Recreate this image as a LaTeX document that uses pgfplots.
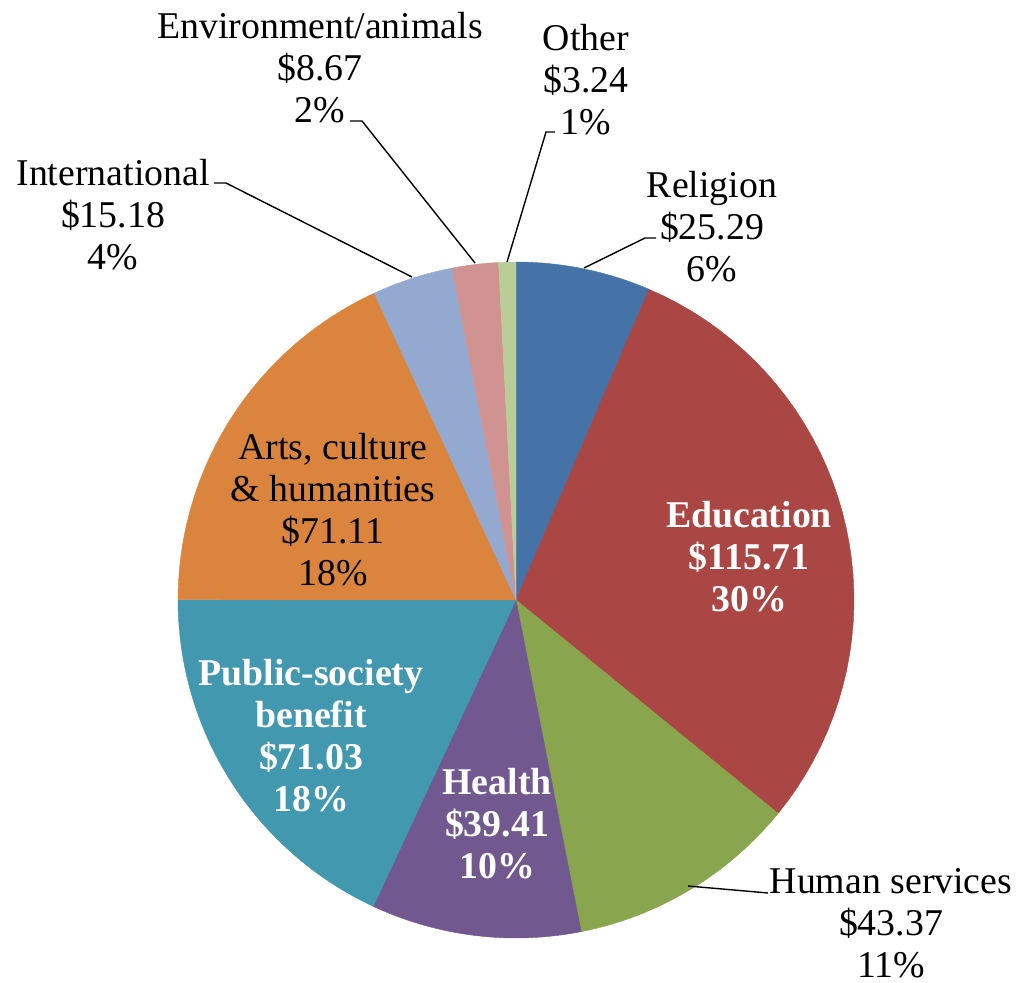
\documentclass[border=0pt]{standalone}
\usepackage{pgfplots}
\pgfplotsset{compat=1.18}
\usepackage{fontspec}
\setmainfont{Liberation Serif}

% Office 2007 palette
\definecolor{cRel}{HTML}{4572A7}
\definecolor{cEdu}{HTML}{AA4643}
\definecolor{cHum}{HTML}{89A54E}
\definecolor{cHea}{HTML}{71588F}
\definecolor{cPub}{HTML}{4198AF}
\definecolor{cArt}{HTML}{DB843D}
\definecolor{cInt}{HTML}{93A9CF}
\definecolor{cEnv}{HTML}{D19392}
\definecolor{cOth}{HTML}{B9CD96}

% giving by sector, billions of dollars (clockwise from top)
\def\vRel{25.29}
\def\vEdu{115.71}
\def\vHum{43.37}
\def\vHea{39.41}
\def\vPub{71.03}
\def\vArt{71.11}
\def\vInt{15.18}
\def\vEnv{8.67}
\def\vOth{3.24}

\pgfmathsetmacro\tot{\vRel+\vEdu+\vHum+\vHea+\vPub+\vArt+\vInt+\vEnv+\vOth}
\pgfmathsetmacro\aA{0}
\pgfmathsetmacro\aB{\aA+\vRel/\tot*360}
\pgfmathsetmacro\aC{\aB+\vEdu/\tot*360}
\pgfmathsetmacro\aD{\aC+\vHum/\tot*360}
\pgfmathsetmacro\aE{\aD+\vHea/\tot*360}
\pgfmathsetmacro\aF{\aE+\vPub/\tot*360}
\pgfmathsetmacro\aG{\aF+\vArt/\tot*360}
\pgfmathsetmacro\aH{\aG+\vInt/\tot*360}
\pgfmathsetmacro\aI{\aH+\vEnv/\tot*360}
\pgfmathsetmacro\aJ{360}

\begin{document}
\begin{tikzpicture}
\begin{axis}[
    x=0.5pt, y=0.5pt,
    xmin=0, xmax=1016, ymin=0, ymax=983,
    y dir=reverse,
    hide axis, clip=false,
    scale only axis,
    samples=40,
]
\path (axis cs:0,0) rectangle (axis cs:1016,983);

% slices, clockwise from 12 o'clock; centre (516,600), radius 338
\addplot[draw=cRel, line width=0.2pt, fill=cRel, domain=\aA:\aB] ({516+338*sin(x)},{600-338*cos(x)}) -- (axis cs:516,600) -- cycle;
\addplot[draw=cEdu, line width=0.2pt, fill=cEdu, domain=\aB:\aC] ({516+338*sin(x)},{600-338*cos(x)}) -- (axis cs:516,600) -- cycle;
\addplot[draw=cHum, line width=0.2pt, fill=cHum, domain=\aC:\aD] ({516+338*sin(x)},{600-338*cos(x)}) -- (axis cs:516,600) -- cycle;
\addplot[draw=cHea, line width=0.2pt, fill=cHea, domain=\aD:\aE] ({516+338*sin(x)},{600-338*cos(x)}) -- (axis cs:516,600) -- cycle;
\addplot[draw=cPub, line width=0.2pt, fill=cPub, domain=\aE:\aF] ({516+338*sin(x)},{600-338*cos(x)}) -- (axis cs:516,600) -- cycle;
\addplot[draw=cArt, line width=0.2pt, fill=cArt, domain=\aF:\aG] ({516+338*sin(x)},{600-338*cos(x)}) -- (axis cs:516,600) -- cycle;
\addplot[draw=cInt, line width=0.2pt, fill=cInt, domain=\aG:\aH] ({516+338*sin(x)},{600-338*cos(x)}) -- (axis cs:516,600) -- cycle;
\addplot[draw=cEnv, line width=0.2pt, fill=cEnv, domain=\aH:\aI] ({516+338*sin(x)},{600-338*cos(x)}) -- (axis cs:516,600) -- cycle;
\addplot[draw=cOth, line width=0.2pt, fill=cOth, domain=\aI:\aJ, samples=8] ({516+338*sin(x)},{600-338*cos(x)}) -- (axis cs:516,600) -- cycle;

% leader lines
\draw[line width=0.7pt] (axis cs:350,121) -- (axis cs:362,121) -- (axis cs:475,263);
\draw[line width=0.7pt] (axis cs:214,183) -- (axis cs:226,183) -- (axis cs:412,277);
\draw[line width=0.7pt] (axis cs:555,132) -- (axis cs:546,132) -- (axis cs:507,262);
\draw[line width=0.7pt] (axis cs:656,238) -- (axis cs:645,238) -- (axis cs:584,268);
\draw[line width=0.7pt] (axis cs:688,886) -- (axis cs:768,893);

% labels
\tikzset{lbl/.style={align=center, inner sep=0pt, font=\fontsize{18.9}{21}\selectfont},
         blbl/.style={lbl, text=white, font=\fontsize{18.9}{21}\selectfont\bfseries}}
\node[lbl] at (axis cs:320,68) {Environment/animals\\\$8.67\\2\%};
\node[lbl] at (axis cs:586,80) {Other\\\$3.24\\1\%};
\node[lbl] at (axis cs:712,227) {Religion\\\$25.29\\6\%};
\node[lbl] at (axis cs:113,215) {International\\\$15.18\\4\%};
\node[lbl] at (axis cs:891,923) {Human services\\\$43.37\\11\%};
\node[lbl] at (axis cs:333,510) {Arts, culture\\\& humanities\\\$71.11\\18\%};
\node[blbl] at (axis cs:749,557) {Education\\\$115.71\\30\%};
\node[blbl] at (axis cs:311,736) {Public-society\\benefit\\\$71.03\\18\%};
\node[blbl] at (axis cs:497,824) {Health\\\$39.41\\10\%};
\end{axis}
\end{tikzpicture}
\end{document}
